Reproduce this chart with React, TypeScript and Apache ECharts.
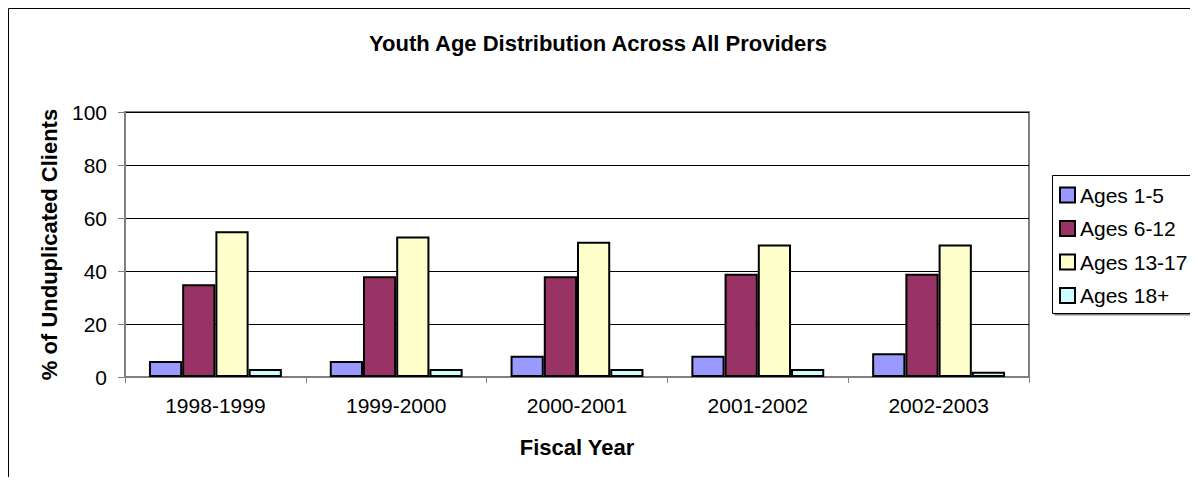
import React, { useEffect, useRef } from "react";
import * as echarts from "echarts";

const categories = ["1998-1999", "1999-2000", "2000-2001", "2001-2002", "2002-2003"];
const seriesNames = ["Ages 1-5", "Ages 6-12", "Ages 13-17", "Ages 18+"];
const ages1to5 = [6, 6, 8, 8, 9];
const ages6to12 = [35, 38, 38, 39, 39];
const ages13to17 = [55, 53, 51, 50, 50];
const ages18plus = [3, 3, 3, 3, 2];
const seriesColors = ["#9999FF", "#993366", "#FFFFCC", "#CCFFFF"];
const yTicks = { min: 0, max: 100, interval: 20 };

const FONT = "Arial, Liberation Sans, sans-serif";
const CHART_W = 1250;

export default function App() {
  const ref = useRef<HTMLDivElement>(null);
  useEffect(() => {
    if (!ref.current) return;
    const chart = echarts.init(ref.current, undefined, { renderer: "svg" });
    const values = [ages1to5, ages6to12, ages13to17, ages18plus];
    chart.setOption({
      animation: false,
      textStyle: { fontFamily: FONT, color: "#000" },
      title: {
        text: "Youth Age Distribution Across All Providers",
        left: 598 - 8,
        textAlign: "center",
        top: 24,
        padding: 0,
        textStyle: { fontFamily: FONT, fontSize: 22, fontWeight: "bold", color: "#000" },
      },
      graphic: [
        {
          type: "rect",
          shape: { x: 0.5, y: 0.5, width: 1300, height: 520 },
          style: { fill: "none", stroke: "#000", lineWidth: 1 },
          silent: true,
          z: -10,
        },
        {
          type: "rect",
          shape: { x: 1046.5, y: 169.5, width: 300, height: 138 },
          style: { fill: "#808080", stroke: "none" },
          silent: true,
          z: -6,
        },
        {
          type: "rect",
          shape: { x: 1044.5, y: 167.5, width: 300, height: 138 },
          style: { fill: "#fff", stroke: "#000", lineWidth: 1 },
          silent: true,
          z: -5,
        },
      ],
      legend: {
        orient: "vertical",
        left: 1051,
        top: 176,
        padding: 0,
        itemWidth: 15,
        itemHeight: 15,
        itemGap: 11.5,
        icon: "rect",
        data: seriesNames,
        itemStyle: { borderColor: "#000", borderWidth: 2 },
        textStyle: { fontFamily: FONT, fontSize: 21, color: "#000", lineHeight: 22 },
      },
      grid: {
        left: 117,
        top: 104,
        right: CHART_W - 1021,
        bottom: 108,
        show: true,
        borderColor: "#808080",
        borderWidth: 2,
        backgroundColor: "transparent",
      },
      xAxis: {
        type: "category",
        data: categories,
        name: "Fiscal Year",
        nameLocation: "middle",
        nameGap: 59,
        nameTextStyle: { fontFamily: FONT, fontSize: 22, fontWeight: "bold", color: "#000" },
        axisLine: { lineStyle: { color: "#808080", width: 2 } },
        axisTick: { show: true, length: 6, lineStyle: { color: "#808080", width: 1 } },
        axisLabel: { fontFamily: FONT, fontSize: 21, color: "#000", margin: 18 },
        splitLine: { show: false },
      },
      yAxis: {
        type: "value",
        min: yTicks.min,
        max: yTicks.max,
        interval: yTicks.interval,
        name: "% of Unduplicated Clients",
        nameLocation: "middle",
        nameGap: 65,
        nameTextStyle: { fontFamily: FONT, fontSize: 22, fontWeight: "bold", color: "#000" },
        axisLine: { show: true, lineStyle: { color: "#808080", width: 2 } },
        axisTick: { show: true, length: 7, lineStyle: { color: "#808080", width: 1 } },
        axisLabel: { fontFamily: FONT, fontSize: 21, color: "#000", margin: 18 },
        splitLine: { show: true, lineStyle: { color: "#000", width: 1 } },
      },
      series: seriesNames.map((name, i) => ({
        name,
        type: "bar",
        data: values[i],
        barGap: "0%",
        barCategoryGap: "26.5%",
        itemStyle: { color: seriesColors[i], borderColor: "#000", borderWidth: 2 },
      })),
    });
    return () => chart.dispose();
  }, []);
  return (
    <div style={{ width: 1190, height: 477, overflow: "hidden", marginBottom: -8 }}>
      <div ref={ref} style={{ width: CHART_W, height: 477 }} />
    </div>
  );
}
